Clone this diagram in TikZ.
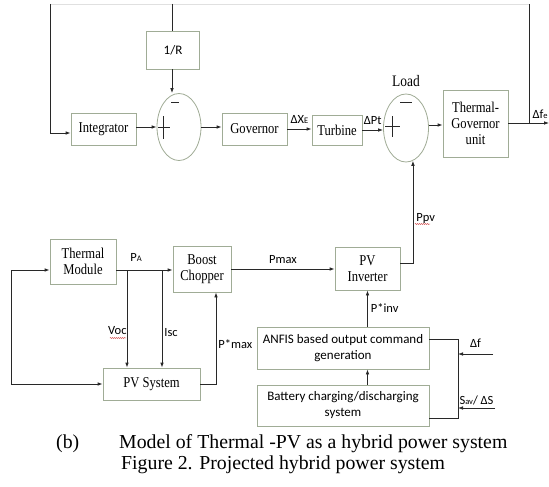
\documentclass[tikz,border=0pt]{standalone}
\usepackage{fontspec}
\setmainfont{Liberation Serif}
\setsansfont{Carlito}
\newfontfamily\boxfont[FakeStretch=0.84]{Liberation Serif}
\usepackage{xcolor}
\definecolor{boxEdge}{RGB}{160, 172, 150}
\definecolor{lineDark}{RGB}{40, 40, 40}
\definecolor{spellRed}{RGB}{200, 40, 40}
\usepackage{tikz}
\usetikzlibrary{
    shapes.geometric,
    arrows.meta,
    decorations.pathmorphing,
    calc
}
\newcommand{\smallsub}[1]{{\fontsize{8.5}{8.5}\selectfont #1}}

\begin{document}
\begin{tikzpicture}[
    x=1pt, y=-1pt,
    blockBox/.style={
        rectangle, draw=boxEdge, line width=0.8pt,
        fill=white, text=black,
        font=\boxfont\fontsize{15}{16}\selectfont, align=center,
        inner sep=2pt
    },
    ctrlBox/.style={
        blockBox, font=\sffamily\fontsize{13}{16}\selectfont
    },
    sumNode/.style={
        ellipse, draw=boxEdge, line width=0.8pt, inner sep=0pt,
        minimum width=44pt, minimum height=67pt
    },
    sigLabel/.style={
        font=\sffamily\fontsize{12.5}{14}\selectfont, inner sep=0pt
    },
    flowArrow/.style={
        -{Latex[length=5pt,width=3.6pt]}, line width=0.8pt, draw=lineDark
    },
    flowLine/.style={
        line width=0.8pt, draw=lineDark
    },
    signMark/.style={
        line width=0.8pt, draw=lineDark
    },
    spellMark/.style={
        draw=spellRed, line width=0.4pt, decorate,
        decoration={snake, amplitude=0.5pt, segment length=2pt}
    },
    capText/.style={
        font=\fontsize{19.8}{22}\selectfont, anchor=west, inner sep=0pt
    }
]
    \useasboundingbox[fill=white] (0,0) rectangle (549,487);

    % Thermal loop: blocks
    \node[blockBox, minimum width=65pt, minimum height=32pt] (integ) at (103.5,129) {Integrator};
    \node[ctrlBox, minimum width=53pt, minimum height=38pt] (invR) at (173,50) {1/R};
    \node[sumNode] (sumA) at (179,127) {};
    \node[blockBox, minimum width=65pt, minimum height=32pt] (gov) at (254.5,129) {Governor};
    \node[blockBox, minimum width=50pt, minimum height=30pt] (turb) at (337,130) {Turbine};
    \node[sumNode, minimum width=45pt, minimum height=68pt] (sumB) at (406,128) {};
    \node[font=\boxfont\fontsize{16}{18}\selectfont] (loadLbl) at (406,81) {Load};
    \node[blockBox, minimum width=65pt, minimum height=67pt] (tgu) at (475.5,123.5) {Thermal-\\Governor\\unit};

    % Feedback coordinates at the top
    \coordinate (topL) at (50,4);
    \coordinate (topR) at (172,4);
    \coordinate (fePick) at (529,123);
    \coordinate (feOut) at (549,123);
    \coordinate (fbL) at (50,133);

    % PV side: blocks
    \node[blockBox, minimum width=66pt, minimum height=45pt] (thermMod) at (83,261.5) {Thermal\\Module};
    \node[blockBox, minimum width=58pt, minimum height=46pt] (boost) at (202,269) {Boost\\Chopper};
    \node[blockBox, minimum width=97pt, minimum height=32pt] (pvSys) at (151.5,384) {PV System};
    \node[blockBox, minimum width=65pt, minimum height=43pt] (pvInv) at (367.5,268.5) {PV\\Inverter};
    \node[ctrlBox, minimum width=172pt, minimum height=42pt] (anfis) at (343,348) {ANFIS based output command\\generation};
    \node[ctrlBox, minimum width=172pt, minimum height=41pt] (batt) at (343,405.5) {Battery charging/discharging\\system};

    % PV side coordinates
    \coordinate (pA) at (127,270);
    \coordinate (pI) at (162,270);
    \coordinate (loopL) at (11,270);
    \coordinate (ppvC) at (412,263);
    \coordinate (sideR) at (458,339);
    \coordinate (battR) at (458,418);
    \coordinate (dfIn) at (493,354);
    \coordinate (savIn) at (495,408);

    % Thermal loop connectors
    \draw[flowLine, draw=black!12] (topL) -- (fePick |- topL);
    \draw[flowArrow] (topL) -- (fbL) -- (fbL -| integ.west);
    \draw[flowLine] (topR) -- (invR.north -| topR);
    \draw[flowArrow] (invR.south -| topR) -- (sumA.north -| topR);
    \draw[flowArrow] (integ.east |- sumA.west) -- (sumA.west);
    \draw[flowArrow] (sumA.east) -- (gov.west |- sumA.east);
    \draw[flowArrow] (gov.east) -- node[sigLabel, above=5pt] {ΔX\smallsub{E}} (turb.west |- gov.east);
    \draw[flowArrow] (turb.east) -- node[sigLabel, above=5pt] {ΔPt} (sumB.west |- turb.east);
    \draw[flowArrow] (sumB.east |- 0,125) -- (tgu.west |- 0,125);
    \draw[flowArrow] (tgu.east |- fePick) -- node[sigLabel, pos=0.78, above=4pt] {Δf\smallsub{e}} (feOut);
    \draw[flowLine] (fePick) -- (fePick |- topL);

    % Signs in the summing points
    \draw[signMark] ([shift={(-8,-25)}]sumA.center) -- ([shift={(0,-25)}]sumA.center);
    \draw[signMark] ([shift={(-16,-11)}]sumA.center) -- ([shift={(-16,12)}]sumA.center);
    \draw[signMark] ([shift={(-21,0)}]sumA.center) -- ([shift={(-9,0)}]sumA.center);
    \draw[signMark] ([shift={(-6,-26)}]sumB.center) -- ([shift={(6,-26)}]sumB.center);
    \draw[signMark] ([shift={(-14,-12)}]sumB.center) -- ([shift={(-14,9)}]sumB.center);
    \draw[signMark] ([shift={(-21,-2)}]sumB.center) -- ([shift={(-6,-2)}]sumB.center);

    % PV side connectors
    \draw[flowArrow] (thermMod.east |- pA) -- (boost.west |- pA);
    \node[sigLabel] (pALbl) at (136,257) {P\smallsub{A}};
    \draw[flowArrow] (pA) -- node[sigLabel, pos=0.62, left=0pt] {Voc} (pA |- pvSys.north);
    \draw[flowArrow] (pI) -- node[sigLabel, pos=0.64, right=2pt] {Isc} (pI |- pvSys.north);
    \draw[spellMark] (110,338) -- (126,338);
    \draw[flowArrow] (pvSys.east) -| node[sigLabel, pos=0.72, right=2pt] {P*max} ([xshift=14pt]boost.south);
    \draw[flowArrow] (loopL) -- (thermMod.west |- loopL);
    \draw[flowArrow] (loopL) |- (pvSys.west);
    \draw[flowArrow] (boost.east) -- node[sigLabel, pos=0.5, above=5pt] {Pmax} (pvInv.west |- boost.east);
    \draw[flowArrow] (pvInv.east |- ppvC) -| node[sigLabel, pos=0.72, right=3pt] {Ppv} (sumB.-78);
    \draw[spellMark] (415,224) -- (430,224);
    \draw[flowArrow] (anfis.north -| pvInv.south) -- node[sigLabel, right=3pt] {P*inv} (pvInv.south);
    \draw[flowArrow] (batt.north -| pvInv.south) -- (anfis.south -| pvInv.south);
    \draw[flowLine] (anfis.east |- sideR) -- (sideR) -- (battR) -- (batt.east |- battR);
    \draw[flowArrow] (dfIn) -- node[sigLabel, above=6pt] {Δf} (dfIn -| sideR);
    \draw[flowArrow] (savIn) -- node[sigLabel, above=3pt] {S\smallsub{av}/ ΔS} (savIn -| sideR);

    % Captions
    \node[capText] (capB) at (56,444) {(b)};
    \node[capText] (capModel) at (119,444) {Model of Thermal -PV as a hybrid power system};
    \node[capText] (capFig) at (121,465) {Figure 2. Projected hybrid power system};

\end{tikzpicture}
\end{document}
